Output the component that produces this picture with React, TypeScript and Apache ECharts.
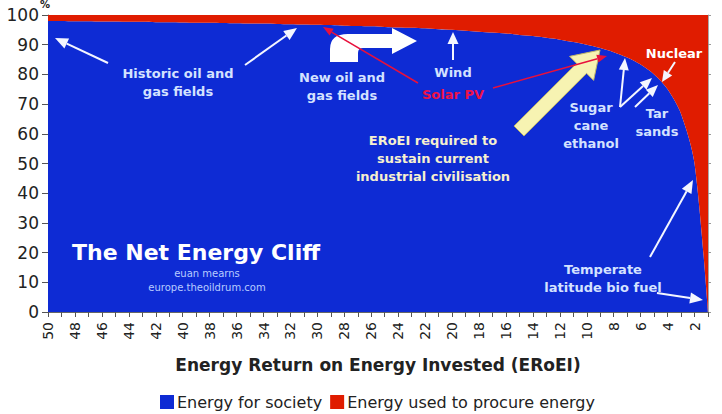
import React, { useEffect, useRef } from "react";
import * as echarts from "echarts";

const categories = ["50","49","48","47","46","45","44","43","42","41","40","39","38","37","36","35","34","33","32","31","30","29","28","27","26","25","24","23","22","21","20","19","18","17","16","15","14","13","12","11","10","9","8","7","6","5","4","3","2","1"];
const societyValues = [98.0,98.0,97.9,97.9,97.8,97.8,97.7,97.7,97.6,97.6,97.5,97.4,97.4,97.3,97.2,97.1,97.1,97.0,96.9,96.8,96.7,96.6,96.4,96.3,96.2,96.0,95.8,95.7,95.5,95.2,95.0,94.7,94.4,94.1,93.8,93.3,92.9,92.3,91.7,90.9,90.0,88.9,87.5,85.7,83.3,80.0,75.0,66.7,50.0,0];
const procureValues = [2.0,2.0,2.1,2.1,2.2,2.2,2.3,2.3,2.4,2.4,2.5,2.6,2.6,2.7,2.8,2.9,2.9,3.0,3.1,3.2,3.3,3.4,3.6,3.7,3.8,4.0,4.2,4.3,4.5,4.8,5.0,5.3,5.6,5.9,6.2,6.7,7.1,7.7,8.3,9.1,10.0,11.1,12.5,14.3,16.7,20.0,25.0,33.3,50.0,100];
const yTicks = [0, 10, 20, 30, 40, 50, 60, 70, 80, 90, 100];

const BLUE = "#0e2bd4";
const RED = "#e01c00";
const FONT = '"DejaVu Sans", Verdana, sans-serif';
const ANN = "#d4e2ff";

echarts.graphic.registerShape(
  "bigArrow",
  echarts.graphic.extendPath(
    "M330 62 L330 49 Q330 34 348 34 L392 34 L392 28 L417 41 L392 54 L392 48 L363 48 Q358 48 358 53 L358 62 Z",
    {}
  )
);

function arrow(x1: number, y1: number, x2: number, y2: number, color: string, lw: number, hl: number, hw: number): any[] {
  const dx = x2 - x1, dy = y2 - y1;
  const L = Math.hypot(dx, dy);
  const ux = dx / L, uy = dy / L;
  const bx = x2 - ux * hl, by = y2 - uy * hl;
  const px = -uy, py = ux;
  return [
    { type: "line", z: 100, shape: { x1, y1, x2: bx, y2: by }, style: { stroke: color, lineWidth: lw } },
    {
      type: "polygon",
      z: 100,
      shape: { points: [[x2, y2], [bx + (px * hw) / 2, by + (py * hw) / 2], [bx - (px * hw) / 2, by - (py * hw) / 2]] },
      style: { fill: color },
    },
  ];
}

function fatArrow(x1: number, y1: number, x2: number, y2: number, bw: number, hw: number, hl: number): any {
  const dx = x2 - x1, dy = y2 - y1;
  const L = Math.hypot(dx, dy);
  const ux = dx / L, uy = dy / L;
  const px = -uy, py = ux;
  const bx = x2 - ux * hl, by = y2 - uy * hl;
  const pts = [
    [x1 + (px * bw) / 2, y1 + (py * bw) / 2],
    [bx + (px * bw) / 2, by + (py * bw) / 2],
    [bx + (px * hw) / 2, by + (py * hw) / 2],
    [x2, y2],
    [bx - (px * hw) / 2, by - (py * hw) / 2],
    [bx - (px * bw) / 2, by - (py * bw) / 2],
    [x1 - (px * bw) / 2, y1 - (py * bw) / 2],
  ];
  return { type: "polygon", z: 100, shape: { points: pts }, style: { fill: "#f7f3b2", stroke: "#bdb56a", lineWidth: 1 } };
}

function label(x: number, y: number, text: string, fill: string, size = 13, weight: any = "bold", align = "center"): any {
  return {
    type: "text",
    z: 101,
    x,
    y,
    style: { text, fill, fontSize: size, fontWeight: weight, fontFamily: FONT, align, verticalAlign: "middle", lineHeight: 18 },
  };
}

export default function App() {
  const ref = useRef<HTMLDivElement>(null);
  useEffect(() => {
    if (!ref.current) return;
    const chart = echarts.init(ref.current, null, { renderer: "svg" });
    const graphics: any[] = [
      label(178, 82, "Historic oil and\ngas fields", ANN),
      label(342, 86, "New oil and\ngas fields", ANN),
      label(453, 72, "Wind", ANN),
      label(453, 94, "Solar PV", "#ee1248"),
      label(433, 158, "ERoEI required to\nsustain current\nindustrial civilisation", "#f6f0cf"),
      label(674, 53, "Nuclear", "#ffffff"),
      label(591, 125, "Sugar\ncane\nethanol", ANN),
      label(657, 122, "Tar\nsands", ANN),
      label(603, 278, "Temperate\nlatitude bio fuel", ANN),
      label(72, 252, "The Net Energy Cliff", "#ffffff", 22, "bold", "left"),
      label(207, 273, "euan mearns", "#b8ccff", 10, "normal"),
      label(207, 287, "europe.theoildrum.com", "#b8ccff", 10, "normal"),
      { type: "text", z: 101, x: 40, y: -1, style: { text: "%", fill: "#222", fontSize: 10, fontWeight: "bold", fontFamily: FONT } },
      { type: "bigArrow", z: 100, x: 0, y: 0, scaleX: 1, scaleY: 1, style: { fill: "#ffffff" } },
      fatArrow(519, 131, 600, 50, 14, 34, 26),
      ...arrow(108, 63, 55, 38, "#f4f6ff", 2, 13, 11),
      ...arrow(245, 65, 297, 28, "#f4f6ff", 2, 13, 11),
      ...arrow(453, 60, 453, 32, "#f4f6ff", 2, 12, 11),
      ...arrow(620, 107, 625, 58, "#f4f6ff", 2, 12, 10),
      ...arrow(620, 107, 652, 78, "#f4f6ff", 2, 12, 10),
      ...arrow(635, 107, 658, 85, "#f4f6ff", 2, 12, 10),
      ...arrow(675, 62, 662, 82, "#f4f6ff", 2, 11, 10),
      ...arrow(650, 257, 693, 180, "#f4f6ff", 2, 13, 11),
      ...arrow(657, 293, 703, 300, "#f4f6ff", 2, 13, 11),
      ...arrow(418, 83, 323, 27, "#e8103c", 1.5, 10, 8),
      ...arrow(493, 88, 607, 56, "#e8103c", 1.5, 10, 8),
    ];
    chart.setOption({
      animation: false,
      grid: { left: 48, right: 14, top: 15, bottom: 102 },
      legend: {
        bottom: -1,
        left: 155,
        icon: "rect",
        itemWidth: 14,
        itemHeight: 14,
        itemGap: 8,
        textStyle: { fontSize: 16, fontFamily: FONT, color: "#222", padding: [0, 0, 0, -2] },
        data: ["Energy for society", "Energy used to procure energy"],
      },
      xAxis: {
        type: "category",
        data: categories,
        boundaryGap: false,
        name: "Energy Return on Energy Invested (ERoEI)",
        nameLocation: "middle",
        nameGap: 44,
        nameTextStyle: { fontSize: 17, fontWeight: "bold", fontFamily: FONT, color: "#222" },
        axisLine: { lineStyle: { color: "#666" } },
        axisTick: { interval: 0, length: 5, lineStyle: { color: "#555" } },
        axisLabel: {
          rotate: 90,
          interval: (i: number, v: string) => Number(v) % 2 === 0,
          fontSize: 14,
          fontFamily: FONT,
          color: "#222",
          margin: 10,
        },
        splitLine: { show: false },
      },
      yAxis: [
        {
          type: "value",
          min: 0,
          max: 100,
          interval: 10,
          axisLine: { show: true, lineStyle: { color: "#666" } },
          axisTick: { show: true, length: 6, lineStyle: { color: "#555" } },
          axisLabel: {
            fontSize: 17,
            fontFamily: FONT,
            color: "#222",
            margin: 9,
            formatter: (v: number) => (yTicks.includes(v) ? String(v) : ""),
          },
          splitLine: { show: false },
        },
        {
          type: "value",
          position: "right",
          min: 0,
          max: 100,
          interval: 10,
          axisLine: { show: true, lineStyle: { color: "#aaa" } },
          axisTick: { show: true, length: 3, lineStyle: { color: "#999" } },
          axisLabel: { show: false },
          splitLine: { show: false },
        },
      ],
      series: [
        {
          name: "Energy for society",
          type: "line",
          stack: "total",
          data: societyValues,
          symbol: "none",
          smooth: 0.3,
          lineStyle: { width: 0 },
          areaStyle: { color: BLUE, opacity: 1 },
          itemStyle: { color: BLUE },
        },
        {
          name: "Energy used to procure energy",
          type: "line",
          stack: "total",
          data: procureValues,
          symbol: "none",
          smooth: 0.3,
          lineStyle: { width: 0 },
          areaStyle: { color: RED, opacity: 1 },
          itemStyle: { color: RED },
        },
      ],
      graphic: graphics,
    });
    return () => chart.dispose();
  }, []);
  return <div ref={ref} style={{ width: 722, height: 414, position: "absolute", left: 0, top: 0 }} />;
}
